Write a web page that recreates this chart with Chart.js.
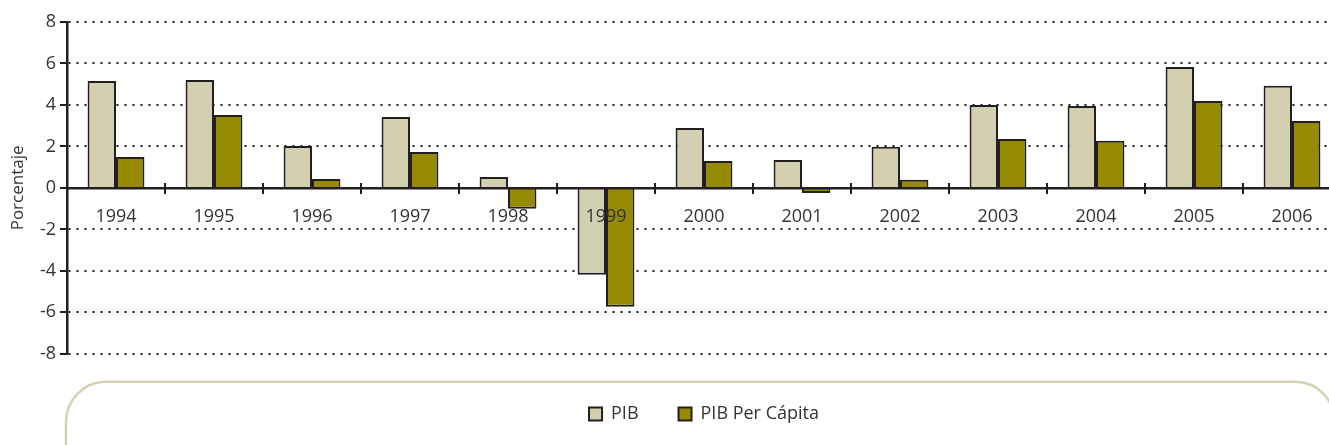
<!DOCTYPE html>
<html>
<head>
<meta charset="utf-8">
<script src="https://cdn.jsdelivr.net/npm/chart.js@4.4.1/dist/chart.umd.min.js"></script>
<style>
  body { margin: 0; background: #fff; overflow: hidden; }
  #wrap { width: 1341px; height: 445px; }
</style>
</head>
<body>
<div id="wrap"><canvas id="pibChart"></canvas></div>
<script>
// years on the x axis
const years = ['1994', '1995', '1996', '1997', '1998', '1999', '2000', '2001', '2002', '2003', '2004', '2005', '2006'];
// growth, %
const pib = [5.16, 5.2, 2.02, 3.42, 0.53, -4.19, 2.89, 1.35, 1.98, 4.0, 3.95, 5.83, 4.92];
const pibPerCapita = [1.49, 3.52, 0.43, 1.73, -1.01, -5.73, 1.3, -0.24, 0.39, 2.36, 2.27, 4.19, 3.23];
const yTicks = [-8, -6, -4, -2, 0, 2, 4, 6, 8];

const fontName = 'Open Sans';
const ink = '#231f20';

// rounded frame behind the legend + crossing tick marks on the zero line
const decorations = {
    id: 'decorations',
    beforeDraw(chart) {
        const c = chart.ctx;
        const lg = chart.legend;
        const x0 = chart.chartArea.left - 1, x1 = chart.chartArea.right - 6;
        const y0 = lg.top + 28, y1 = lg.top + 150, r = 40;
        c.save();
        c.strokeStyle = '#d5d1b3';
        c.lineWidth = 2.5;
        c.beginPath();
        c.moveTo(x0 + r, y0);
        c.lineTo(x1 - r, y0);
        c.arcTo(x1, y0, x1, y0 + r, r);
        c.lineTo(x1, y1);
        c.moveTo(x0, y1);
        c.lineTo(x0, y0 + r);
        c.arcTo(x0, y0, x0 + r, y0, r);
        c.stroke();
        c.restore();
    },
    afterDraw(chart) {
        const c = chart.ctx;
        const xs = chart.scales.x;
        const zero = chart.scales.y.getPixelForValue(0);
        c.save();
        c.strokeStyle = ink;
        c.lineWidth = 2;
        for (let i = 1; i <= years.length; i++) {
            const x = Math.round(xs.getPixelForValue(i - 0.5));
            c.beginPath();
            c.moveTo(x, zero - 5);
            c.lineTo(x, zero + 6);
            c.stroke();
        }
        c.restore();
    }
};

const ctx = document.getElementById('pibChart').getContext('2d');

const pibChart = new Chart(ctx, {
    type: 'bar',
    data: {
        labels: years,
        datasets: [
          {
            label: 'PIB',
            data: pib,
            backgroundColor: '#d3cfb1',
            borderColor: ink,
            borderWidth: 2,
            categoryPercentage: 0.58,
            barPercentage: 1
          },
          {
            label: 'PIB Per Cápita',
            data: pibPerCapita,
            backgroundColor: '#968b00',
            borderColor: ink,
            borderWidth: 2,
            categoryPercentage: 0.58,
            barPercentage: 1
          }
        ]
    },
    options: {
        responsive: true,
        maintainAspectRatio: false,
        animation: false,
        layout: {
            padding: { top: 22, left: 0, right: 0, bottom: 12 }
        },
        scales: {
            x: {
                position: { y: 0 },
                grid: { display: false },
                border: { display: true, color: ink, width: 2.5, z: 1 },
                ticks: {
                    z: 1,
                    padding: 10,
                    color: '#333',
                    font: { family: fontName, size: 18 },
                    maxRotation: 0,
                    autoSkip: false
                }
            },
            y: {
                min: -8,
                max: 8,
                afterBuildTicks(scale) {
                    scale.ticks = yTicks.map(v => ({ value: v }));
                },
                afterFit(scale) {
                    scale.width = 67;
                },
                grid: {
                    color: ink,
                    lineWidth: 2,
                    tickLength: 7,
                    tickColor: ink,
                    tickBorderDash: []
                },
                border: { display: true, color: ink, width: 2.5, dash: [2, 6] },
                ticks: {
                    padding: 4,
                    color: '#333',
                    font: { family: fontName, size: 18 }
                },
                title: {
                    display: true,
                    text: 'Porcentaje',
                    color: '#333',
                    padding: { top: 8, bottom: 0 },
                    font: { family: fontName, size: 17 }
                }
            }
        },
        plugins: {
            legend: {
                position: 'bottom',
                fullSize: false,
                title: {
                    display: true,
                    text: '',
                    padding: { top: 10, bottom: 0 },
                    font: { size: 1 }
                },
                labels: {
                    color: '#333',
                    font: { family: fontName, size: 18 },
                    boxWidth: 13,
                    boxHeight: 13,
                    padding: 40,
                    useBorderRadius: false
                }
            },
            tooltip: { enabled: false }
        }
    },
    plugins: [decorations]
});
</script>
</body>
</html>
